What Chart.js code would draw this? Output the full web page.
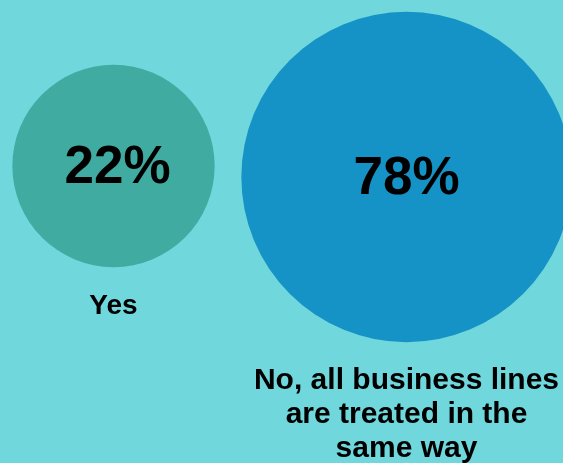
<!DOCTYPE html>
<html>
<head>
<meta charset="utf-8">
<style>
  html, body { margin: 0; padding: 0; background: #70d7dc; }
  #wrap { width: 563px; height: 463px; position: relative; }
</style>
<script src="https://cdn.jsdelivr.net/npm/chart.js@4/dist/chart.umd.min.js"></script>
</head>
<body>
<div id="wrap"><canvas id="c" width="563" height="463"></canvas></div>
<script>
// Survey answers and their shares (%)
const categories = ['Yes', 'No, all business lines are treated in the same way'];
const labelLines = [['Yes'], ['No, all business lines', 'are treated in the', 'same way']];
const shares = [22, 78];
const colors = ['#40aba0', '#1592c6'];

// Small vertical stagger of the two bubbles (y-axis units)
const stagger = [5.5, -5.5];

// Bubble radius grows with the share
function radiusFor(v) { return 76 + 1.143 * v; }

const points = shares.map((v, i) => ({ x: i, y: stagger[i], r: radiusFor(v) }));

const labelPlugin = {
  id: 'bubbleLabels',
  afterDatasetsDraw(chart) {
    const ctx = chart.ctx;
    const meta = chart.getDatasetMeta(0);
    ctx.save();
    ctx.fillStyle = '#000';
    ctx.textAlign = 'center';
    ctx.textBaseline = 'alphabetic';
    meta.data.forEach((el, i) => {
      const r = points[i].r;
      ctx.font = 'bold 53px "Liberation Sans", Arial, sans-serif';
      ctx.fillText(shares[i] + '%', el.x + (i === 0 ? 4 : 0), el.y + 17);
      const lines = labelLines[i];
      ctx.font = (i === 0 ? 'bold 28px ' : 'bold 30px ') + '"Liberation Sans", Arial, sans-serif';
      lines.forEach((t, k) => {
        ctx.fillText(t, el.x, el.y + r + 47 + k * 34);
      });
    });
    ctx.restore();
  }
};

new Chart(document.getElementById('c'), {
  type: 'bubble',
  data: {
    labels: categories,
    datasets: [{
      data: points,
      backgroundColor: colors,
      hoverBackgroundColor: colors,
      borderWidth: 0,
      hoverBorderWidth: 0,
      clip: false
    }]
  },
  options: {
    responsive: false,
    animation: false,
    events: [],
    layout: { padding: 0, autoPadding: false },
    plugins: { legend: { display: false }, tooltip: { enabled: false } },
    scales: {
      x: { type: 'linear', display: false, min: -0.38737, max: 1.53413 },
      y: { type: 'linear', display: false, min: -291.5, max: 171.5 }
    }
  },
  plugins: [labelPlugin]
});
</script>
</body>
</html>
